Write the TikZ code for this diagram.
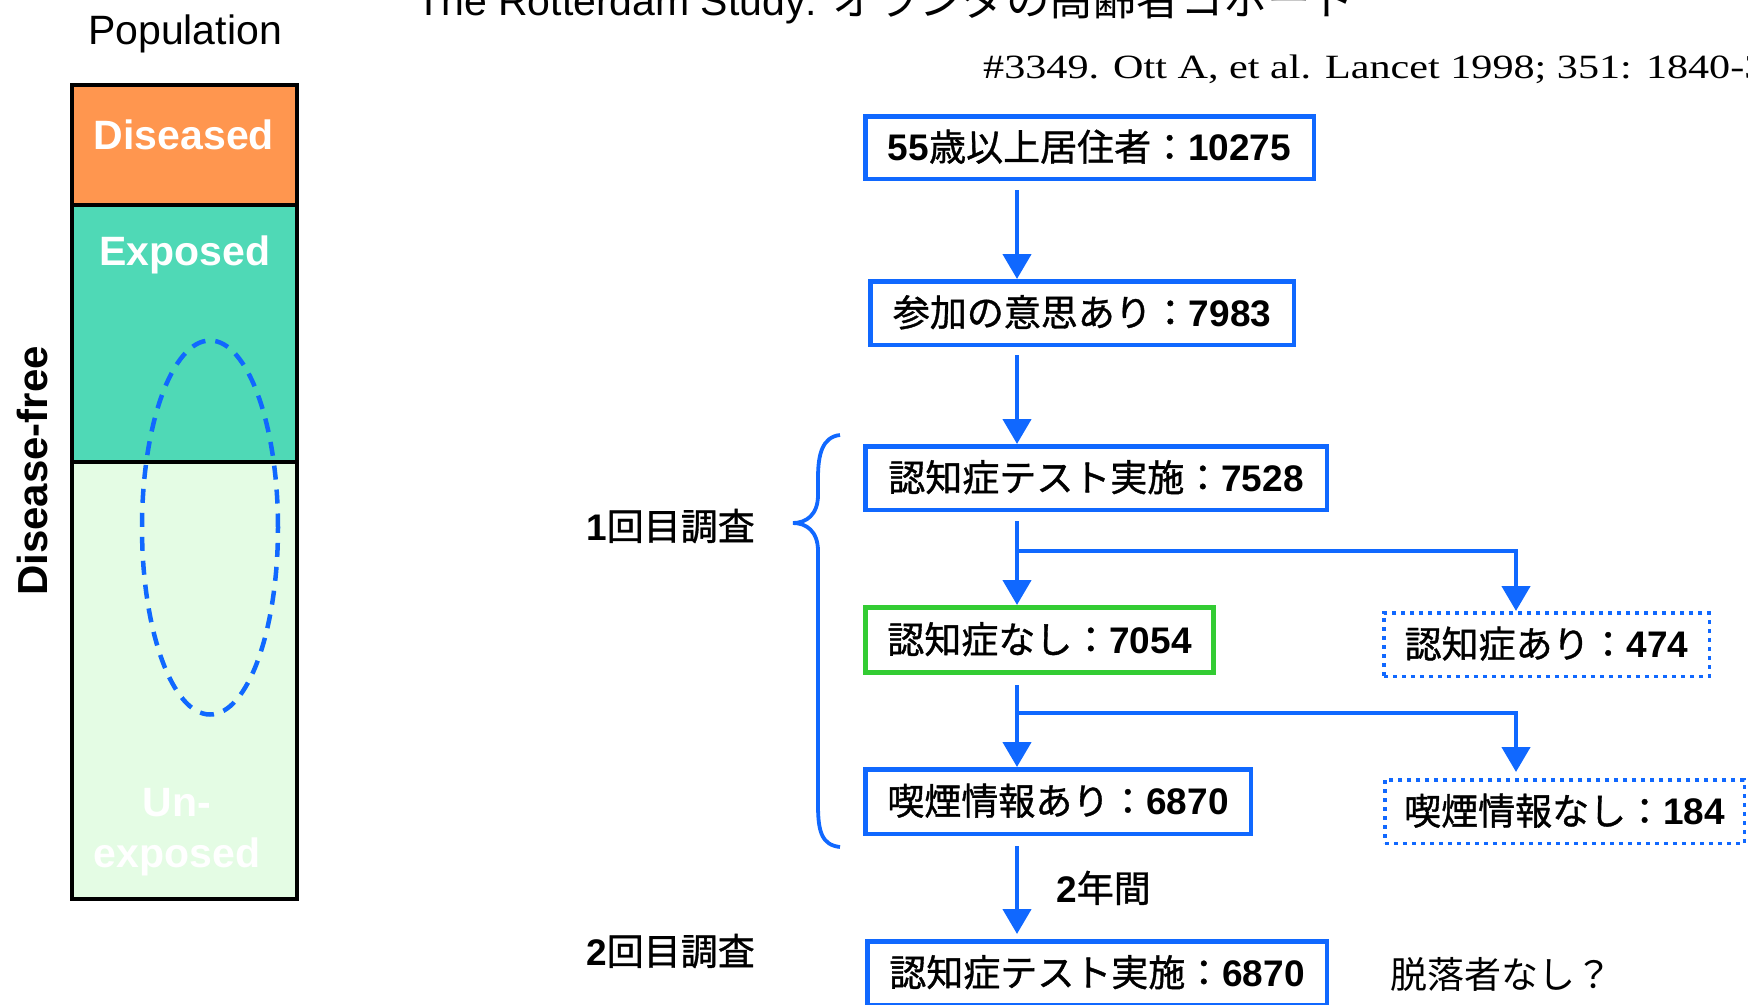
\documentclass[tikz,border=0pt]{standalone}
\usepackage{fontspec}
\usepackage{graphicx}
\setmainfont{Liberation Sans}
\newfontfamily\jp{Noto Sans CJK JP}
\newfontfamily\jpb{Noto Sans CJK JP}[FakeBold=1]
\newfontfamily\citefont{Liberation Serif}
\usetikzlibrary{arrows.meta}
\definecolor{cBlue}{RGB}{16,104,255}
\definecolor{cGreen}{RGB}{51,204,51}
\definecolor{cDis}{RGB}{255,150,79}
\definecolor{cExp}{RGB}{79,217,182}
\definecolor{cUnx}{RGB}{228,252,228}
\newcommand\jt[1]{{\jpb #1}}
\newcommand\jr[1]{{\jp #1}}
\newcommand\nm[1]{{\rmfamily\bfseries #1}}
\newcommand\boxfont{\fontsize{37pt}{44pt}\selectfont}
\newcommand\labfont{\fontsize{41pt}{48pt}\selectfont}
\begin{document}
\begin{tikzpicture}[x=1pt,y=-1pt,
  fbox/.style={draw=cBlue, line width=4.5pt, inner sep=0pt, font=\boxfont,
    text height=26.5pt, text depth=0pt},
  gbox/.style={fbox, draw=cGreen, line width=5pt},
  dbox/.style={fbox, line width=3.5pt, dash pattern=on 4pt off 5pt},
  arr/.style={draw=cBlue, line width=4.5pt, -{Triangle[width=28pt,length=25pt]}},
  wlab/.style={text=white, font=\labfont\bfseries, inner sep=0pt},
  jlab/.style={font=\boxfont, inner sep=0pt}
]
\useasboundingbox (0,0) rectangle (1748,1004);

% title and citation
\node[anchor=base west, inner sep=0pt, font=\fontsize{41pt}{48pt}\selectfont] (title) at (416,15)
  {The Rotterdam Study: {\jp\fontsize{43.5pt}{48pt}\selectfont オランダの高齢者コホート}};
\node[anchor=base west, inner sep=0pt] (cite) at (983,78)
  {\scalebox{1.24}[1]{\citefont\fontsize{34pt}{40pt}\selectfont \#3349. Ott A, et al. Lancet 1998; 351: 1840-3}};

% population column
\fill[cDis] (72,85) rectangle (297,205);
\fill[cExp] (72,205) rectangle (297,462);
\fill[cUnx] (72,462) rectangle (297,899);
\draw[line width=4pt] (72,85) rectangle (297,899);
\draw[line width=4pt] (72,205) -- (297,205);
\draw[line width=4pt] (72,462) -- (297,462);
\draw[cBlue, line width=4.5pt, dash pattern=on 14pt off 10pt] (210,527.5) ellipse [x radius=68pt, y radius=187pt];

\node[anchor=base, inner sep=0pt, font=\labfont] (pop) at (185,44) {Population};
\node[wlab, anchor=base] (dis) at (184,149) {Diseased};
\node[wlab, anchor=base] (exp) at (185,265) {Exposed};
\node[wlab, anchor=base] (un) at (177,816) {Un-};
\node[wlab, anchor=base] (unexp) at (177,867) {exposed};
\node[anchor=base, inner sep=0pt, rotate=90, font=\fontsize{42pt}{48pt}\selectfont\bfseries] (dfree) at (47,471) {Disease-free};

% flow boxes
\node[fbox, minimum width=448.5pt, minimum height=62.5pt] (b1) at (1089.5,147.5)
  {\nm{55}\jt{歳以上居住者：}\nm{10275}};
\node[fbox, minimum width=423.5pt, minimum height=63.5pt] (b2) at (1082,313)
  {\jt{参加の意思あり：}\nm{7983}};
\node[fbox, minimum width=461.5pt, minimum height=63.5pt] (b3) at (1096,478)
  {\jt{認知症テスト実施：}\nm{7528}};
\node[gbox, minimum width=348pt, minimum height=65pt] (b4) at (1039.5,640)
  {\jt{認知症なし：}\nm{7054}};
\node[dbox, minimum width=325.5pt, minimum height=63.5pt] (b5) at (1546.5,644.5)
  {\jt{認知症あり：}\nm{474}};
\node[fbox, minimum width=385.5pt, minimum height=64.5pt] (b6) at (1058,801.5)
  {\jt{喫煙情報あり：}\nm{6870}};
\node[dbox, minimum width=359.5pt, minimum height=63.5pt] (b7) at (1564.5,811.5)
  {\jt{喫煙情報なし：}\nm{184}};
\node[fbox, minimum width=459.5pt, minimum height=63.5pt] (b8) at (1097,973)
  {\jt{認知症テスト実施：}\nm{6870}};

% labels
\node[jlab, anchor=base west] (r1) at (586,540) {\nm{1}\jt{回目調査}};
\node[jlab, anchor=base west] (r2) at (586,965) {\nm{2}\jt{回目調査}};
\node[jlab, anchor=base west] (yrs) at (1056,902) {\nm{2}\jt{年間}};
\node[jlab, anchor=base west] (drop) at (1390,988.5) {\jr{脱落者なし？}};

% connectors
\coordinate (ax) at (1017,0);
\coordinate (j1) at (1017,551);
\coordinate (j2) at (1017,713);
\draw[arr, shorten <=9pt] (b1.south -| ax) -- (b2.north -| ax);
\draw[arr, shorten <=8pt] (b2.south -| ax) -- (b3.north -| ax);
\draw[arr, shorten <=9pt] (b3.south -| ax) -- (b4.north -| ax);
\draw[arr] (j1) -| ([xshift=-30.5pt]b5.north);
\draw[arr, shorten <=10pt] (b4.south -| ax) -- (b6.north -| ax);
\draw[arr, shorten >=6pt] (j2) -| ([xshift=-48.5pt]b7.north);
\draw[arr, shorten <=10pt, shorten >=5pt] (b6.south -| ax) -- (b8.north -| ax);

% brace
\coordinate (brTop) at (840,435);
\coordinate (brTip) at (793,523);
\coordinate (brBot) at (840,847);
\draw[cBlue, line width=3.8pt] (brTop) .. controls (822,437) and (818,455) .. (818,478)
  -- (818,495) .. controls (818,515) and (806,523) .. (brTip)
  .. controls (806,523) and (818,531) .. (818,551)
  -- (818,805) .. controls (818,832) and (822,845) .. (brBot);
\end{tikzpicture}
\end{document}
